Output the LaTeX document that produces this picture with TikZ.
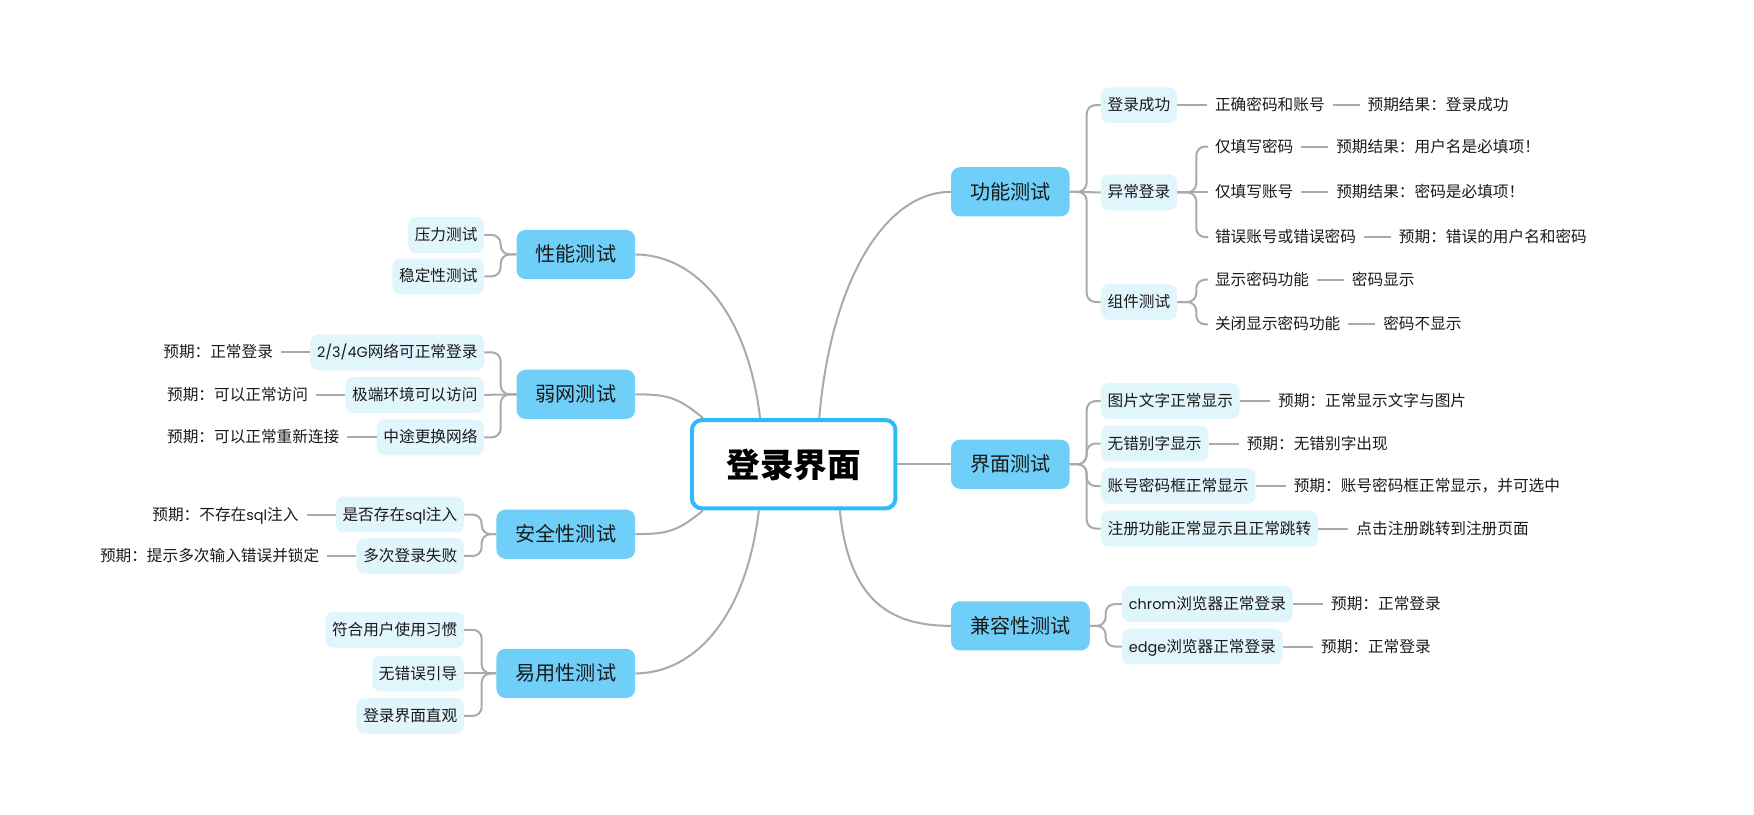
\documentclass[tikz,border=0pt]{standalone}
\usepackage{fontspec}
\setmainfont{Noto Sans CJK SC}
\newfontfamily\latfont{Poppins}[Scale=0.92]
\newcommand{\lat}[1]{{\latfont #1}}
\usetikzlibrary{positioning}
\definecolor{mainblue}{HTML}{70CFF8}
\definecolor{subblue}{HTML}{E1F5FD}
\definecolor{rootblue}{HTML}{2DBBFD}
\definecolor{linegray}{HTML}{AAAAAA}
\definecolor{txt}{HTML}{1A1A1A}
\begin{document}
\begin{tikzpicture}[x=1pt,y=-1pt,
  conn/.style={draw=linegray, line width=1.8pt},
  bracket/.style={conn, rounded corners=8pt},
  rootbox/.style={draw=rootblue, line width=3.6pt, fill=white, rounded corners=9pt,
    minimum width=182pt, minimum height=79pt, text=black,
    font=\fontsize{30pt}{32pt}\selectfont\bfseries, text height=26pt, text depth=3pt},
  mainbox/.style={fill=mainblue, rounded corners=8pt, minimum height=44pt, inner xsep=17pt,
    text=txt, font=\fontsize{18pt}{20pt}\selectfont, text height=15.5pt, text depth=2.5pt},
  subbox/.style={fill=subblue, rounded corners=7pt, minimum height=32pt, inner xsep=6pt,
    text=txt, font=\fontsize{14pt}{16pt}\selectfont, text height=12pt, text depth=2pt},
  leaf/.style={inner sep=0pt, text=txt, font=\fontsize{14pt}{16pt}\selectfont,
    text height=12pt, text depth=2pt}
]
\useasboundingbox (0,0) rectangle (1568,728);

% root and main branches
\node[rootbox] (root) at (709.5,415) {登录界面};
\node[mainbox, anchor=west] (gn) at (850,171.5) {功能测试};
\node[mainbox, anchor=west] (jm) at (850,415) {界面测试};
\node[mainbox, anchor=west] (jr) at (850,559.5) {兼容性测试};
\node[mainbox, anchor=east] (xn) at (568,227.5) {性能测试};
\node[mainbox, anchor=east] (rw) at (568,352.5) {弱网测试};
\node[mainbox, anchor=east] (aq) at (568,477.5) {安全性测试};
\node[mainbox, anchor=east] (yy) at (568,602) {易用性测试};

% main curves
\draw[conn] (root.61) .. controls +(10,-120) and +(-60,0) .. (gn.west);
\draw[conn] (root.east) -- (jm.west);
\draw[conn] (root.315) .. controls +(8,80) and +(-55,0) .. (jr.west);
\draw[conn] (xn.east) .. controls +(50,0) and +(-12,-100) .. (root.126.6);
\draw[conn] (rw.east) .. controls +(30,0) and +(-22,-18) .. (root.153);
\draw[conn] (aq.east) .. controls +(30,0) and +(-22,18) .. (root.207);
\draw[conn] (yy.east) .. controls +(50,0) and +(-12,100) .. (root.233.4);

% ---- 功能测试
\node[subbox, anchor=west] (dl) at (984,94) {登录成功};
\node[subbox, anchor=west] (yc) at (984,172) {异常登录};
\node[subbox, anchor=west] (zj) at (984,270) {组件测试};
\draw[bracket] (gn.east) -- ++(15,0) |- (dl.west);
\draw[conn] (gn.east) -- (yc.west);
\draw[bracket] (gn.east) -- ++(15,0) |- (zj.west);

\node[leaf, anchor=west] (l1) at (1086,94) {正确密码和账号};
\node[leaf, right=38pt of l1] (l1r) {预期结果：登录成功};
\node[leaf, anchor=west] (l2) at (1086,131) {仅填写密码};
\node[leaf, right=38pt of l2] (l2r) {预期结果：用户名是必填项！};
\node[leaf, anchor=west] (l3) at (1086,172) {仅填写账号};
\node[leaf, right=38pt of l3] (l3r) {预期结果：密码是必填项！};
\node[leaf, anchor=west] (l4) at (1086,212) {错误账号或错误密码};
\node[leaf, right=38pt of l4] (l4r) {预期：错误的用户名和密码};
\node[leaf, anchor=west] (l5) at (1086,250) {显示密码功能};
\node[leaf, right=38pt of l5] (l5r) {密码显示};
\node[leaf, anchor=west] (l6) at (1086,290) {关闭显示密码功能};
\node[leaf, right=38pt of l6] (l6r) {密码不显示};

\draw[conn, shorten >=7pt] (dl.east) -- (l1.west);
\draw[bracket, shorten >=6pt] (yc.east) -- ++(17,0) |- (l2.west);
\draw[conn, shorten >=6pt] (yc.east) -- (l3.west);
\draw[bracket, shorten >=6pt] (yc.east) -- ++(17,0) |- (l4.west);
\draw[bracket, shorten >=6pt] (zj.east) -- ++(17,0) |- (l5.west);
\draw[bracket, shorten >=6pt] (zj.east) -- ++(17,0) |- (l6.west);
\foreach \a in {l1,l2,l3,l4,l5,l6}
  \draw[conn, shorten <=7pt, shorten >=7pt] (\a.east) -- (\a r.west);

% ---- 界面测试
\node[subbox, anchor=west] (tp) at (984,358.5) {图片文字正常显示};
\node[subbox, anchor=west] (wc) at (984,396.5) {无错别字显示};
\node[subbox, anchor=west] (zh) at (984,434.5) {账号密码框正常显示};
\node[subbox, anchor=west] (zc) at (984,472.5) {注册功能正常显示且正常跳转};
\foreach \b in {tp,wc,zh,zc}
  \draw[bracket] (jm.east) -- ++(15,0) |- (\b.west);
\node[leaf, right=34pt of tp] (tpr) {预期：正常显示文字与图片};
\node[leaf, right=34pt of wc] (wcr) {预期：无错别字出现};
\node[leaf, right=34pt of zh] (zhr) {预期：账号密码框正常显示，并可选中};
\node[leaf, right=34pt of zc] (zcr) {点击注册跳转到注册页面};
\foreach \b in {tp,wc,zh,zc}
  \draw[conn, shorten >=7pt] (\b.east) -- (\b r.west);

% ---- 兼容性测试
\node[subbox, anchor=west] (ch) at (1003,540) {\lat{chrom}浏览器正常登录};
\node[subbox, anchor=west] (ed) at (1003,578) {\lat{edge}浏览器正常登录};
\foreach \b in {ch,ed}
  \draw[bracket] (jr.east) -- ++(14,0) |- (\b.west);
\node[leaf, right=34pt of ch] (chr) {预期：正常登录};
\node[leaf, right=34pt of ed] (edr) {预期：正常登录};
\foreach \b in {ch,ed}
  \draw[conn, shorten >=7pt] (\b.east) -- (\b r.west);

% ---- 性能测试
\node[subbox, anchor=east] (yl) at (433,210) {压力测试};
\node[subbox, anchor=east] (wd) at (433,247) {稳定性测试};
\foreach \b in {yl,wd}
  \draw[bracket] (xn.west) -- ++(-14,0) |- (\b.east);

% ---- 弱网测试
\node[subbox, anchor=east] (w1) at (433,315) {\lat{2/3/4G}网络可正常登录};
\node[subbox, anchor=east] (w2) at (433,353) {极端环境可以访问};
\node[subbox, anchor=east] (w3) at (433,391) {中途更换网络};
\foreach \b in {w1,w3}
  \draw[bracket] (rw.west) -- ++(-14,0) |- (\b.east);
\draw[conn] (rw.west) -- (w2.east);
\node[leaf, left=33pt of w1] (w1l) {预期：正常登录};
\node[leaf, left=33pt of w2] (w2l) {预期：可以正常访问};
\node[leaf, left=33pt of w3] (w3l) {预期：可以正常重新连接};
\foreach \b in {w1,w2,w3}
  \draw[conn, shorten >=7pt] (\b.west) -- (\b l.east);

% ---- 安全性测试
\node[subbox, anchor=east] (s1) at (415,460) {是否存在\lat{sql}注入};
\node[subbox, anchor=east] (s2) at (415,497) {多次登录失败};
\foreach \b in {s1,s2}
  \draw[bracket] (aq.west) -- ++(-13,0) |- (\b.east);
\node[leaf, left=33pt of s1] (s1l) {预期：不存在\lat{sql}注入};
\node[leaf, left=33pt of s2] (s2l) {预期：提示多次输入错误并锁定};
\foreach \b in {s1,s2}
  \draw[conn, shorten >=7pt] (\b.west) -- (\b l.east);

% ---- 易用性测试
\node[subbox, anchor=east] (u1) at (415,563) {符合用户使用习惯};
\node[subbox, anchor=east] (u2) at (415,602) {无错误引导};
\node[subbox, anchor=east] (u3) at (415,640) {登录界面直观};
\foreach \b in {u1,u3}
  \draw[bracket] (yy.west) -- ++(-13,0) |- (\b.east);
\draw[conn] (yy.west) -- (u2.east);
\end{tikzpicture}
\end{document}
